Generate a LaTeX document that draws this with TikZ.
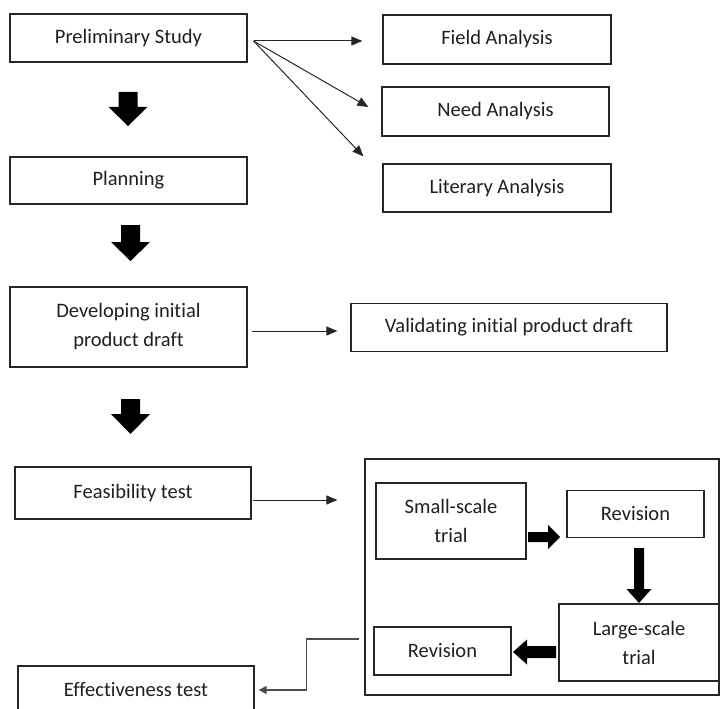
\documentclass[tikz,border=0pt]{standalone}
\usepackage{fontspec}
\setmainfont{Carlito}[Ligatures=NoCommon]
\usetikzlibrary{arrows.meta,calc}
\newcommand{\blockarrow}[6]{%
  \fill[black,shift={(#1)},rotate=#2] (0,-#4) -- ({#3-#6},-#4) -- ({#3-#6},-#5) -- (#3,0) -- ({#3-#6},#5) -- ({#3-#6},#4) -- (0,#4) -- cycle;}
\begin{document}
\begin{tikzpicture}[x=1pt,y=-1pt,
  box/.style={draw=black!85,line width=1.2pt,rectangle,inner sep=0pt,align=center,
    text=black!88,font=\fontsize{20.5}{29}\selectfont},
  thinarrow/.style={draw=black!85,line width=1pt,-{Triangle[length=11pt,width=9pt]}},
  conn/.style={draw=black!70,line width=1.1pt}]
\useasboundingbox (0,0) rectangle (721,709);
\clip (0,0) rectangle (721,709);
% left column
\node[box,minimum width=237,minimum height=48] (prelim) at (128.5,38) {Preliminary Study};
\node[box,minimum width=237,minimum height=47] (plan) at (128.5,180.5) {Planning};
\node[box,minimum width=237,minimum height=80] (dev) at (128.5,327) {Developing initial\\product draft};
\node[box,minimum width=236,minimum height=52] (feas) at (133,493) {\raisebox{3pt}{Feasibility test}};
\node[box,minimum width=236,minimum height=48] (eff) at (136,690) {\raisebox{1pt}{Effectiveness test}};
% right of preliminary
\node[box,minimum width=228,minimum height=49] (field) at (497,39.5) {\raisebox{1.5pt}{Field Analysis}};
\node[box,minimum width=227,minimum height=49] (need) at (495.5,111.5) {Need Analysis};
\node[box,minimum width=228,minimum height=48] (lit) at (497,188) {Literary Analysis};
\node[box,minimum width=316,minimum height=48] (valid) at (509,327.5) {\raisebox{2pt}{Validating initial product draft}};
% container
\node[draw=black!85,line width=1.2pt,rectangle,inner sep=0pt,minimum width=354,minimum height=236] (cont) at (542,577) {};
\node[box,minimum width=150,minimum height=76] (small) at (451,521) {Small-scale\\trial};
\node[box,minimum width=137,minimum height=47] (rev1) at (635.5,514) {Revision};
\node[box,minimum width=160,minimum height=77] (large) at (639,642.5) {Large-scale\\trial};
\node[box,minimum width=137,minimum height=48] (rev2) at (442.5,651) {\raisebox{1pt}{Revision}};
% thin arrows
\coordinate (ps) at ($(prelim.east)+(6,3)$);
\draw[thinarrow] (ps) -- ($(field.west)+(-20,1.5)$);
\draw[thinarrow] (ps) -- ($(need.west)+(-13,-4.5)$);
\draw[thinarrow] (ps) -- ($(lit.north west)+(-19,-7)$);
\draw[thinarrow] ($(dev.east)+(4,4)$) -- ($(valid.west)+(-13,3.5)$);
\draw[thinarrow] ($(feas.east)+(1,7)$) -- ($(cont.west |- feas.east)+(-27,7)$);
% connector to effectiveness test
\coordinate (cs) at ($(cont.west)+(-5,62)$);
\draw[conn,-{Triangle[length=8pt,width=8pt]}] (cs) -- ++(-53,0) |- ($(eff.east)+(4,0)$);
% block arrows
\blockarrow{128,92}{-90}{34}{9.5}{19.5}{19}
\blockarrow{130.5,225}{-90}{36}{9.5}{19.5}{19}
\blockarrow{130.5,399}{-90}{35}{9.5}{19.5}{20}
\blockarrow{528,537}{0}{32}{5}{12}{12}
\blockarrow{639,548}{-90}{55}{5}{12.5}{14}
\blockarrow{556,652}{180}{43}{6}{12.5}{14}
\end{tikzpicture}
\end{document}
